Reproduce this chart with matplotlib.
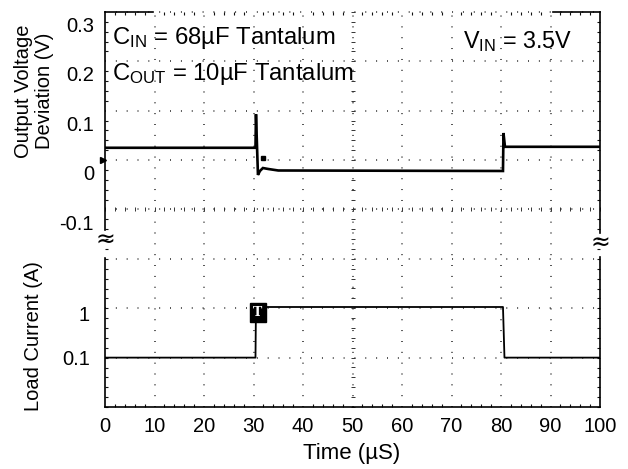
import numpy as np
import matplotlib
matplotlib.use("Agg")
import matplotlib.pyplot as plt
import matplotlib.transforms as mtransforms
from matplotlib.ticker import MultipleLocator, NullLocator

plt.rcParams['font.family'] = ['Liberation Sans', 'DejaVu Sans']
plt.rcParams['mathtext.fontset'] = 'custom'
plt.rcParams['mathtext.rm'] = 'Liberation Sans'
plt.rcParams['mathtext.it'] = 'Liberation Sans:italic'

# ---- data ----
x_ticks = [0, 10, 20, 30, 40, 50, 60, 70, 80, 90, 100]
v_ticks = [-0.1, 0.0, 0.1, 0.2, 0.3]
v_tick_labels = ['-0.1', '0', '0.1', '0.2', '0.3']
i_ticks = [0.1, 1.0]
i_tick_labels = ['0.1', '1']

# output voltage deviation trace (V) vs time (us)
t_v = [0, 30.4, 30.5, 30.9, 31.3, 31.9, 33.0, 35.0, 80.4, 80.5, 80.8, 100]
v_dev = [0.025, 0.025, 0.093, -0.030, -0.022, -0.016, -0.018, -0.021, -0.022, 0.055, 0.027, 0.027]

# load current trace (A) vs time (us)
t_i = [0, 30.4, 30.5, 80.4, 80.7, 100]
i_load = [0.1, 0.1, 1.06, 1.06, 0.1, 0.1]

W, H, DPI = 628, 469, 100
fig = plt.figure(figsize=(W / DPI, H / DPI), dpi=DPI)
L, R, T, B = 105, 600, 12, 407
pos = [L / W, 1 - B / H, (R - L) / W, (B - T) / H]

axV = fig.add_axes(pos)
axI = fig.add_axes(pos)
axI.patch.set_visible(False)

axV.set_xlim(0, 100)
axV.set_ylim(-0.5, 0.3)
axI.set_xlim(0, 100)
axI.set_yscale('log')
axI.set_ylim(1e-2, 1e6)

for s in axV.spines.values():
    s.set_visible(False)
for s in axI.spines.values():
    s.set_visible(False)

# ---- scope graticule ----
gcol = '#111111'
dot = (0, (0.6, 6.5))
for xv in x_ticks[1:-1]:
    axV.axvline(xv, color=gcol, lw=1.1, ls=dot, zorder=1)
for k in range(1, 9):
    axV.axhline(-0.5 + 0.1 * k, color=gcol, lw=1.1, ls=dot, zorder=1, clip_on=False)
# centre lines with small tick crosses
axV.plot(np.arange(0, 100.1, 2), np.full(51, -0.1), ls='none', marker='|',
         ms=3, mew=0.7, color='#333333', zorder=1)
axV.plot(np.full(41, 50.0), np.arange(-0.5, 0.3001, 0.02), ls='none', marker='_',
         ms=3, mew=0.7, color='#333333', zorder=1)

# ---- frame (with breaks) ----
ta = axV.transAxes
kw = dict(color='black', lw=1.2, transform=ta, clip_on=False, zorder=5)
gap_lo, gap_hi = (B - 258) / (B - T), (B - 230) / (B - T)
axV.plot([0, 0], [0, gap_lo], **kw)
axV.plot([0, 0], [gap_hi, 1], **kw)
axV.plot([1, 1], [0, (B - 257) / (B - T)], **kw)
axV.plot([1, 1], [(B - 233) / (B - T), 1], **kw)
axV.plot([0, 1], [0, 0], **kw)
axV.plot([0, (153 - L) / (R - L)], [1, 1], **kw)
axV.plot([(553 - L) / (R - L), 1], [1, 1], **kw)
axV.text(0, (B - 240) / (B - T), '≈', transform=ta, ha='center', va='center',
         fontsize=17, family='DejaVu Sans', clip_on=False)
axV.text(1, (B - 243) / (B - T), '≈', transform=ta, ha='center', va='center',
         fontsize=17, family='DejaVu Sans', clip_on=False)

# ---- traces ----
axV.plot(t_v, v_dev, color='black', lw=1.9, zorder=4, solid_joinstyle='miter')
axI.plot(t_i, i_load, color='black', lw=1.3, zorder=4)
axV.plot([32.0], [0.004], marker='s', ms=3, color='black', zorder=4)
axV.plot([-0.4], [0.0], marker='>', ms=4, color='black', clip_on=False, zorder=6)
axI.text(30.9, 0.83, 'T', ha='center', va='center', fontsize=9, color='white',
         family='DejaVu Serif', fontweight='bold',
         bbox=dict(boxstyle='square,pad=0.25', fc='black', ec='black'), zorder=6)

# ---- ticks ----
axV.set_xticks(x_ticks)
axV.set_xticklabels([str(x) for x in x_ticks], fontsize=14.5)
axV.xaxis.set_minor_locator(MultipleLocator(2))
axV.tick_params(axis='x', which='major', length=0, pad=7)
axV.tick_params(axis='x', which='minor', direction='in', length=2.2, width=0.8,
                top=True, bottom=True, color=gcol)
axI.set_xticks([])
axV.set_yticks(v_ticks)
axV.set_yticklabels(v_tick_labels, fontsize=14.5)
axV.yaxis.set_minor_locator(MultipleLocator(0.02))
axV.tick_params(axis='y', which='major', length=0, pad=8)
axV.tick_params(axis='y', which='minor', direction='in', length=2.2, width=0.8,
                left=True, right=True, color=gcol)
axI.set_yticks(i_ticks)
axI.set_yticklabels(i_tick_labels, fontsize=14.5)
axI.yaxis.set_minor_locator(NullLocator())
axI.tick_params(axis='y', length=0, pad=11)

for lab in axV.get_yticklabels():
    lab.set_transform(lab.get_transform() +
                      mtransforms.ScaledTranslation(0, -9 / 72, fig.dpi_scale_trans))
for lab, dy in zip(axI.get_yticklabels(), [0, -4]):
    lab.set_transform(lab.get_transform() +
                      mtransforms.ScaledTranslation(0, dy / 72, fig.dpi_scale_trans))

# ---- labels ----
fig.text(352 / W, 1 - 459 / H, 'Time (µS)', ha='center', va='baseline', fontsize=16)
fig.text(34 / W, 1 - 91 / H, 'Output Voltage\nDeviation (V)', rotation=90,
         ha='center', va='center', multialignment='center', fontsize=14.5, linespacing=1.15)
fig.text(34 / W, 1 - 336 / H, 'Load Current (A)', rotation=90,
         ha='center', va='center', fontsize=14.5)

fig.text(112 / W, 1 - 44 / H, r'C$_{\mathrm{IN}}$ = 68µF Tantalum', ha='left',
         va='baseline', fontsize=17.2)
fig.text(112 / W, 1 - 80 / H, r'C$_{\mathrm{OUT}}$ = 10µF Tantalum', ha='left',
         va='baseline', fontsize=17.2)
fig.text(463 / W, 1 - 48 / H, r'V$_{\mathrm{IN}}$ = 3.5V', ha='left',
         va='baseline', fontsize=16.8)

fig.savefig('out.png', dpi=DPI)
